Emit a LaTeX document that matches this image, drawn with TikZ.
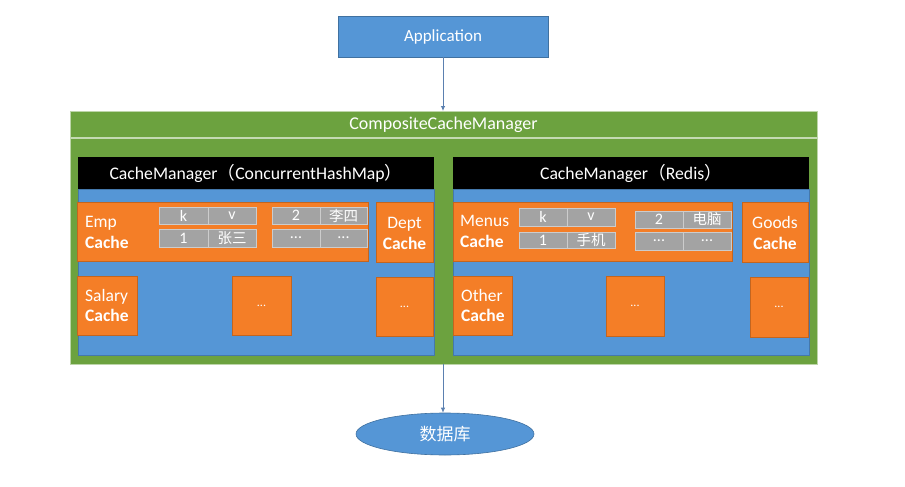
\documentclass[tikz,border=0pt]{standalone}
\usepackage{fontspec}
\setmainfont{Carlito}
\newfontfamily\cjk{Noto Sans CJK SC}
\usetikzlibrary{arrows.meta,shapes.geometric}
\definecolor{cgreen}{HTML}{6CA23F}
\definecolor{corange}{HTML}{F47E27}
\definecolor{cblue}{HTML}{5596D6}
\definecolor{cgray}{HTML}{A3A3A3}
\definecolor{carrow}{HTML}{5B80B0}
\newcommand\bx[7]{\node[#2, minimum width={(#5-#3)*1pt}, minimum height={(#6-#4)*1pt}] (#1) at (#3,#4) {#7};}
\newcommand\zh[1]{{\cjk\fontsize{14.5}{14.5}\selectfont #1}}
\begin{document}
\begin{tikzpicture}[x=1pt,y=-1pt,
  box/.style={rectangle, inner sep=0pt, outer sep=0pt, anchor=north west, text=white},
  ob/.style={box, fill=corange, draw=corange!80!black, line width=0.6pt, font=\fontsize{12}{12}\selectfont},
  cell/.style={box, fill=cgray, draw=gray!40!white, line width=0.6pt, font=\fontsize{16}{16}\selectfont},
  panel/.style={box, fill=cblue, draw=cblue!80!black, line width=0.5pt},
  hdr/.style={box, fill=black, font=\fontsize{17.7}{17.7}\selectfont},
  lbl/.style={anchor=base west, text=white, inner sep=0pt, font=\fontsize{17.5}{17.5}\selectfont},
  blbl/.style={lbl, font=\fontsize{17.5}{17.5}\selectfont\bfseries},
  arr/.style={draw=carrow, line width=0.8pt, -{Latex[length=5pt,width=4.5pt]}}
]
\useasboundingbox[fill=white] (0,0) rectangle (905,487);

% Application
\bx{app}{box, fill=cblue, draw=cblue!75!black, line width=0.6pt, font=\fontsize{17}{17}\selectfont}{338}{16}{548}{57}{Application}

% Composite
\bx{comp}{box, fill=cgreen, draw=cgreen!45!white, line width=1pt}{70}{111}{817}{364}{}
\draw[cgreen!40!white, line width=1.2pt] (70.5,138) -- (816.5,138);
\node[text=white, font=\fontsize{18}{18}\selectfont] (comptitle) at (443.5,124.5) {CompositeCacheManager};

% Left panel
\bx{lpanel}{panel}{78}{189}{434}{355}{}
\bx{lhdr}{hdr}{78}{157}{434}{189}{CacheManager{\cjk（}ConcurrentHashMap{\cjk）}}

\bx{emp}{ob}{77}{202}{368}{261}{}
\node[lbl] (empa) at (85,227) {Emp};
\node[blbl] (empb) at (85,248) {Cache};
\bx{c1}{cell}{159}{207}{208}{224}{k}
\bx{c2}{cell}{208}{207}{256}{224}{v}
\bx{c3}{cell}{159}{229}{208}{247}{1}
\bx{c4}{cell}{208}{229}{256}{247}{\zh{张三}}
\bx{c5}{cell}{272}{207}{320}{224}{2}
\bx{c6}{cell}{320}{207}{367}{224}{\zh{李四}}
\bx{c7}{cell}{272}{229}{320}{247}{...}
\bx{c8}{cell}{320}{229}{367}{247}{...}

\bx{dept}{ob}{376}{202}{433}{262}{}
\node[lbl, anchor=base] (depta) at (404.5,228) {Dept};
\node[blbl, anchor=base] (deptb) at (404.5,249) {Cache};

\bx{sal}{ob}{77}{276}{137}{335}{}
\node[lbl] (sala) at (85,301) {Salary};
\node[blbl] (salb) at (85,321) {Cache};

\bx{ld1}{ob}{232}{276}{291}{335}{...}
\bx{ld2}{ob}{376}{277}{433}{336}{...}

% Right panel
\bx{rpanel}{panel}{453}{189}{809}{355}{}
\bx{rhdr}{hdr}{453}{157}{809}{189}{CacheManager{\cjk（}Redis{\cjk）}}

\bx{men}{ob}{453}{202}{732}{261}{}
\node[lbl] (mena) at (460,226) {Menus};
\node[blbl] (menb) at (460,247) {Cache};
\bx{d1}{cell}{519}{208}{567}{226}{k}
\bx{d2}{cell}{567}{208}{615}{226}{v}
\bx{d3}{cell}{519}{232}{567}{248}{1}
\bx{d4}{cell}{567}{232}{615}{248}{\zh{手机}}
\bx{d5}{cell}{635}{211}{683}{228}{2}
\bx{d6}{cell}{683}{211}{731}{228}{\zh{电脑}}
\bx{d7}{cell}{635}{232}{683}{250}{...}
\bx{d8}{cell}{683}{232}{731}{250}{...}

\bx{goods}{ob}{742}{202}{808}{262}{}
\node[lbl, anchor=base] (goodsa) at (775,228) {Goods};
\node[blbl, anchor=base] (goodsb) at (775,249) {Cache};

\bx{oth}{ob}{453}{276}{512}{335}{}
\node[lbl] (otha) at (461,301) {Other};
\node[blbl] (othb) at (461,321) {Cache};

\bx{rd1}{ob}{606}{276}{664}{336}{...}
\bx{rd2}{ob}{750}{277}{808}{337}{...}

% Database
\node[ellipse, fill=cblue, draw=cblue!75!black, line width=0.6pt, minimum width=178pt, minimum height=42pt, inner sep=0pt, text=white, font=\cjk\fontsize{17}{17}\selectfont] (db) at (445,434) {数据库};

% connectors
\draw[arr] (app.south) -- (comp.north -| app.south);
\draw[arr] (comp.south -| app.south) -- (db.north -| app.south);
\end{tikzpicture}
\end{document}
